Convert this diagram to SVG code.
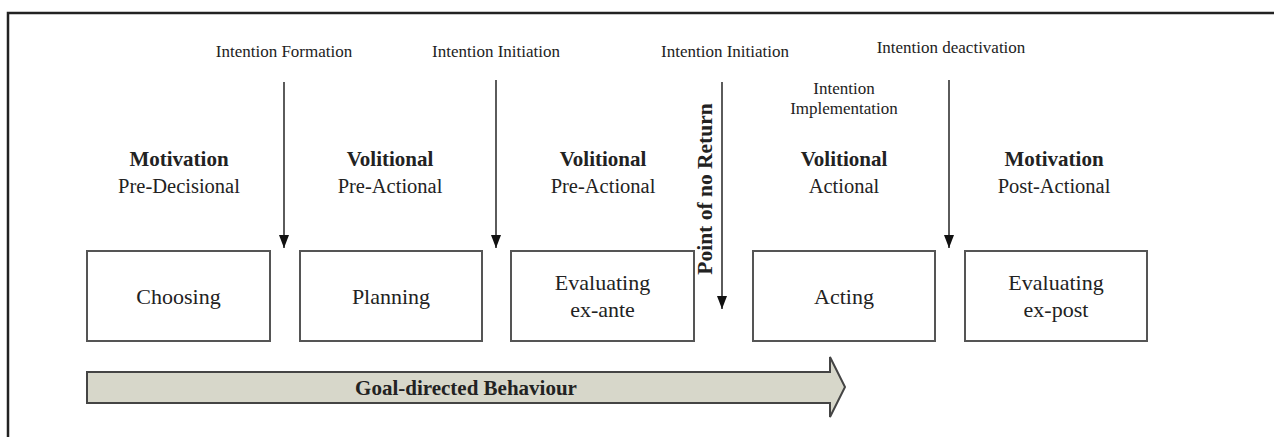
<svg xmlns="http://www.w3.org/2000/svg" width="1274" height="437" viewBox="0 0 1274 437">
<defs>
<marker id="ah" viewBox="0 0 13 10" refX="13" refY="5" markerWidth="13" markerHeight="10" markerUnits="userSpaceOnUse" orient="auto">
<path d="M0,0 L13,5 L0,10 Z" fill="#111"/>
</marker>
<style>
.t{font-family:"Liberation Serif","Times New Roman",Times,"DejaVu Serif",serif;fill:#222;text-anchor:middle}
.top{font-size:17px}
.hb{font-size:21px;font-weight:bold}
.hr{font-size:20.5px}
.bx{font-size:22px}
.box{fill:#fff;stroke:#555;stroke-width:2}
.conn line{stroke:#333;stroke-width:1.6}
</style>
</defs>
<rect x="0" y="0" width="1274" height="437" fill="#fff"/>
<path d="M8,437 L8,13 L1280,13" fill="none" stroke="#222" stroke-width="2.5"/>

<g id="labels-top">
<text class="t top" x="284" y="57">Intention Formation</text>
<text class="t top" x="496" y="57">Intention Initiation</text>
<text class="t top" x="725" y="57">Intention Initiation</text>
<text class="t top" x="951" y="53">Intention deactivation</text>
<text class="t top" x="844" y="94">Intention</text>
<text class="t top" x="844" y="114">Implementation</text>
</g>

<g id="phase-headings">
<text class="t hb" x="179" y="166">Motivation</text>
<text class="t hr" x="179" y="193">Pre-Decisional</text>
<text class="t hb" x="390" y="166">Volitional</text>
<text class="t hr" x="390" y="193">Pre-Actional</text>
<text class="t hb" x="603" y="166">Volitional</text>
<text class="t hr" x="603" y="193">Pre-Actional</text>
<text class="t hb" x="844" y="166">Volitional</text>
<text class="t hr" x="844" y="193">Actional</text>
<text class="t hb" x="1054" y="166">Motivation</text>
<text class="t hr" x="1054" y="193">Post-Actional</text>
</g>

<g id="point-of-no-return">
<text class="t hb" style="font-size:21.5px" transform="translate(712,189) rotate(-90)">Point of no Return</text>
</g>

<g class="conn" id="connectors">
<line x1="284" y1="82" x2="284" y2="248" marker-end="url(#ah)"/>
<line x1="496" y1="80" x2="496" y2="248" marker-end="url(#ah)"/>
<line x1="722" y1="82" x2="722" y2="309" marker-end="url(#ah)"/>
<line x1="949" y1="80" x2="949" y2="248" marker-end="url(#ah)"/>
</g>

<g id="node-choosing">
<rect class="box" x="87" y="251" width="183" height="90"/>
<text class="t bx" x="178.5" y="304">Choosing</text>
</g>
<g id="node-planning">
<rect class="box" x="300" y="251" width="182" height="90"/>
<text class="t bx" x="391" y="304">Planning</text>
</g>
<g id="node-evaluating-ex-ante">
<rect class="box" x="511" y="251" width="183" height="90"/>
<text class="t bx" x="602.5" y="290">Evaluating</text>
<text class="t bx" x="602.5" y="317">ex-ante</text>
</g>
<g id="node-acting">
<rect class="box" x="753" y="251" width="182" height="90"/>
<text class="t bx" x="844" y="304">Acting</text>
</g>
<g id="node-evaluating-ex-post">
<rect class="box" x="965" y="251" width="182" height="90"/>
<text class="t bx" x="1056" y="290">Evaluating</text>
<text class="t bx" x="1056" y="317">ex-post</text>
</g>

<g id="goal-directed-behaviour">
<path d="M87,372 L830,372 L830,357 L845,387 L830,417 L830,403 L87,403 Z" fill="#d7d7ca" stroke="#444" stroke-width="2" stroke-linejoin="miter"/>
<text class="t hb" x="466" y="395">Goal-directed Behaviour</text>
</g>
</svg>
